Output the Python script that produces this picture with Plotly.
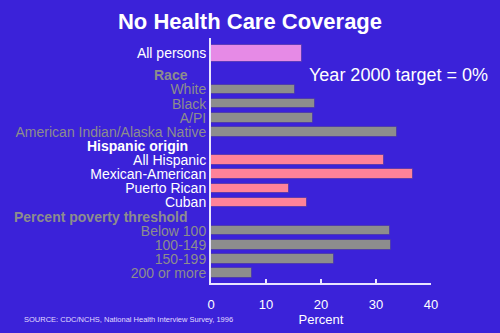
import plotly.graph_objects as go

# ---- data ----
overall_label = ["All persons"]
overall_values = [16.6]

race_labels = ["White", "Black", "A/PI", "American Indian/Alaska Native"]
race_values = [15.3, 18.9, 18.5, 33.8]

hispanic_labels = ["All Hispanic", "Mexican-American", "Puerto Rican", "Cuban"]
hispanic_values = [31.5, 36.7, 14.2, 17.4]

poverty_labels = ["Below 100", "100-149", "150-199", "200 or more"]
poverty_values = [32.6, 32.8, 22.4, 7.4]

headers = ["Race", "Hispanic origin", "Percent poverty threshold"]
x_ticks = [0, 10, 20, 30, 40]

# ---- styling ----
BG = "#3b22d9"
GRAY = "#8d8d8d"
PINK = "#e68ae6"
SALMON = "#ff8299"
WHITE = "#ffffff"
FONT = "Liberation Sans, Arial, Helvetica, sans-serif"

# row layout: header rows at 0, 5, 10; items follow each header
race_pos = [1, 2, 3, 4]
hisp_pos = [6, 7, 8, 9]
pov_pos = [11, 12, 13, 14]
overall_pos = [-1.55]
header_pos = [0, 5, 10]
header_colors = [GRAY, WHITE, GRAY]

fig = go.Figure()

def add(labels, vals, pos, color, width):
    fig.add_trace(go.Bar(
        x=vals, y=pos, orientation="h",
        width=[width] * len(vals),
        marker=dict(color=color, line=dict(color="rgba(70,50,170,0.7)", width=1)),
        hoverinfo="x+text", text=labels, textposition="none",
        showlegend=False,
    ))

add(overall_label, overall_values, overall_pos, PINK, 1.22)
add(race_labels, race_values, race_pos, GRAY, 0.68)
add(hispanic_labels, hispanic_values, hisp_pos, SALMON, 0.68)
add(poverty_labels, poverty_values, pov_pos, GRAY, 0.68)

tickvals = overall_pos + race_pos + hisp_pos + pov_pos
ticktext = (
    [f'<span style="color:{WHITE}">{t}</span>' for t in overall_label]
    + [f'<span style="color:{GRAY}">{t}</span>' for t in race_labels]
    + [f'<span style="color:{WHITE}">{t}</span>' for t in hispanic_labels]
    + [f'<span style="color:{GRAY}">{t}</span>' for t in poverty_labels]
)

for h, p, c in zip(headers, header_pos, header_colors):
    fig.add_annotation(
        text=f"<b>{h}</b>", x=-0.097, xref="paper", y=p, yref="y",
        xanchor="right", yanchor="middle", showarrow=False,
        font=dict(family=FONT, size=14, color=c),
    )

fig.add_annotation(
    text="Year 2000 target = 0%", x=0.436, xref="paper", y=-0.05, yref="y",
    xanchor="left", yanchor="middle", showarrow=False,
    font=dict(family=FONT, size=18, color=WHITE),
)

fig.add_annotation(
    text="SOURCE: CDC/NCHS, National Health Interview Survey, 1996",
    x=-0.858, xref="paper", y=-0.147, yref="paper",
    xanchor="left", yanchor="middle", showarrow=False,
    font=dict(family=FONT, size=7.5, color="#e0dcff"),
)

fig.update_layout(
    width=500, height=333,
    paper_bgcolor=BG, plot_bgcolor=BG,
    margin=dict(l=211.3, r=69.3, t=38, b=39.7, pad=0),
    font=dict(family=FONT, color=WHITE),
    title=dict(
        text="<b>No Health Care Coverage</b>", x=0.5, xanchor="center",
        y=1 - 21 / 333, yanchor="middle",
        font=dict(family=FONT, size=22, color=WHITE),
    ),
    bargap=0,
)

fig.update_xaxes(
    range=[0, 40], tickvals=x_ticks, ticks="inside", ticklen=4,
    tickcolor="#e8e4ff", tickwidth=1.5,
    showline=True, linecolor="#e8e4ff", linewidth=2,
    showgrid=False, zeroline=False, ticklabelstandoff=8,
    tickfont=dict(family=FONT, size=13, color=WHITE),
    title=dict(text="Percent", font=dict(family=FONT, size=13, color=WHITE), standoff=0),
)
fig.update_yaxes(
    range=[14.71, -2.65], tickvals=tickvals, ticktext=ticktext,
    ticks="", showline=True, linecolor="#e8e4ff", linewidth=2,
    showgrid=False, zeroline=False,
    tickfont=dict(family=FONT, size=14, color=WHITE),
)

fig.write_html("out.html")
